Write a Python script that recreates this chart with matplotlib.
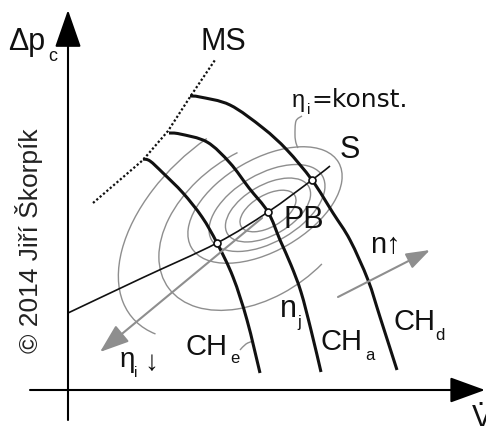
import numpy as np
import matplotlib
matplotlib.use("Agg")
import matplotlib.pyplot as plt
from matplotlib.path import Path
from matplotlib.patches import PathPatch, Arc

plt.rcParams['font.family'] = ['Liberation Sans', 'DejaVu Sans']

# ---- compressor map in drawing units: x = volume flow V, y = pressure rise dp ----
# speed characteristics (constant n)
ch_e = [(75, 231), (82, 229), (95, 217), (115, 197), (134, 173), (149, 147),
        (165, 113), (179, 70), (192, 17)]
ch_a = [(101, 257), (112, 256), (139, 248), (162, 227), (181, 202), (200, 178),
        (212, 150), (223, 125), (233, 98), (243, 60), (253, 18)]
ch_d = [(122, 294), (132, 293), (162, 285), (195, 262), (219, 240), (244, 210),
        (265, 177), (282, 150), (300, 110), (312, 73), (329, 20)]

# surge line MS
surge = [(25, 187), (75, 230), (100, 259), (122, 293), (147, 330)]

# system characteristic S and operating points on it
system = [(0, 77), (74, 112), (149, 147), (200, 178), (244, 210), (262, 224)]
op_v = [149, 200, 244]
op_p = [147, 178, 210]

# efficiency contours eta_i = const (centre, semi-axes, tilt, arc span)
eta_cx = [179, 190, 197, 199, 200, 200]
eta_cy = [169, 166, 185, 182, 180, 179]
eta_a = [150, 110, 85, 64, 47, 31]
eta_b = [90, 72, 46, 34, 25, 16]
eta_tilt = [40, 35, 30, 30, 30, 30]
eta_t1 = [76, 71, 0, 0, 0, 0]
eta_t2 = [191, 293, 360, 360, 360, 360]

# leader from the eta_i label to a contour, leader from CH_e label to its curve
eta_leader = [(234, 274), (228, 269), (227, 255), (228, 247), (230, 242)]
che_leader = [(172, 40), (178, 46), (185, 49)]

# direction arrows (tail, tip)
n_arrow = [(270, 93), (362, 140)]
eta_arrow = [(194, 172), (32, 38)]


def smooth_path(points):
    """Catmull-Rom curve through the points as a cubic Bezier path."""
    p = np.asarray(points, float)
    ext = np.vstack([p[0], p, p[-1]])
    verts = [p[0]]
    codes = [Path.MOVETO]
    for i in range(1, len(ext) - 2):
        p0, p1, p2, p3 = ext[i - 1], ext[i], ext[i + 1], ext[i + 2]
        verts += [p1 + (p2 - p0) / 6, p2 - (p3 - p1) / 6, p2]
        codes += [Path.CURVE4] * 3
    return Path(verts, codes)


fig = plt.figure(figsize=(4.86, 4.26), dpi=100)
ax = fig.add_axes([0, 0, 1, 1])
ax.set_xlim(-68, 418)
ax.set_ylim(-36, 390)
ax.axis('off')

GRAY = '#8e8e8e'
INK = '#111111'

# efficiency contours
for cx, cy, a, b, t, t1, t2 in zip(eta_cx, eta_cy, eta_a, eta_b, eta_tilt, eta_t1, eta_t2):
    ax.add_patch(Arc((cx, cy), 2 * a, 2 * b, angle=t, theta1=t1, theta2=t2,
                     color=GRAY, lw=1.0))

ax.add_patch(PathPatch(smooth_path(eta_leader), fill=False, ec=GRAY, lw=1.0))
ax.add_patch(PathPatch(smooth_path(che_leader), fill=False, ec=GRAY, lw=1.0))

# direction arrows
ax.annotate('', xy=n_arrow[1], xytext=n_arrow[0],
            arrowprops=dict(arrowstyle='-|>,head_length=1.45,head_width=0.5',
                            color=GRAY, lw=1.5, shrinkA=0, shrinkB=0, mutation_scale=10))
ax.annotate('', xy=eta_arrow[1], xytext=eta_arrow[0],
            arrowprops=dict(arrowstyle='-|>,head_length=1.8,head_width=0.65',
                            color=GRAY, lw=1.5, shrinkA=0, shrinkB=0, mutation_scale=10))

# speed lines
for curve in (ch_e, ch_a, ch_d):
    ax.add_patch(PathPatch(smooth_path(curve), fill=False, ec=INK, lw=2.2,
                           capstyle='butt'))

# surge line
sv, sp = zip(*surge)
ax.plot(sv, sp, color=INK, lw=1.6, dashes=(1, 1))

# system characteristic
ax.add_patch(PathPatch(smooth_path(system), fill=False, ec=INK, lw=1.2))
ax.plot(op_v, op_p, 'o', ms=5, mfc='white', mec=INK, mew=1.2, zorder=5)

# coordinate axes
ax.annotate('', xy=(0, 380), xytext=(0, -30),
            arrowprops=dict(arrowstyle='-|>,head_length=2.35,head_width=0.82',
                            color='black', lw=1.5, shrinkA=0, shrinkB=0, mutation_scale=10))
ax.annotate('', xy=(417, 0), xytext=(-38, 0),
            arrowprops=dict(arrowstyle='-|>,head_length=2.2,head_width=0.8',
                            color='black', lw=1.5, shrinkA=0, shrinkB=0, mutation_scale=10))

# labels
def label(x, y, s, size, **kw):
    ax.text(x, y, s, fontsize=size, color=INK, ha=kw.pop('ha', 'left'),
            va=kw.pop('va', 'baseline'), **kw)

label(-60, 340, 'Δp', 22)
label(-20, 329, 'c', 13)
label(155, 340, 'MS', 22, ha='center')
label(224, 283, 'η', 17)
label(238.5, 276, 'i', 11)
label(243, 283, '=konst.', 18, family=['DejaVu Sans'])
label(272, 232, 'S', 22)
label(215, 162, 'PB', 22)
label(302, 137, 'n↑', 21)
label(212, 73, 'n', 22)
label(229, 63, 'j', 12)
label(117, 35, 'CH', 21)
label(162, 27, 'e', 12)
label(252, 40, 'CH', 21)
label(297, 30, 'a', 12)
label(325, 60, 'CH', 21)
label(367, 50, 'd', 12)
label(52, 23, 'η', 20)
label(66, 13, 'i', 11)
label(76, 20, '↓', 20)
label(404, -37, 'V', 22)
label(412, -22, '·', 22, ha='center')
ax.text(-39, 149, '© 2014 Jiří Škorpík', fontsize=19, color='#222222',
        rotation=90, ha='center', va='center')

fig.savefig('out.png', dpi=100)
